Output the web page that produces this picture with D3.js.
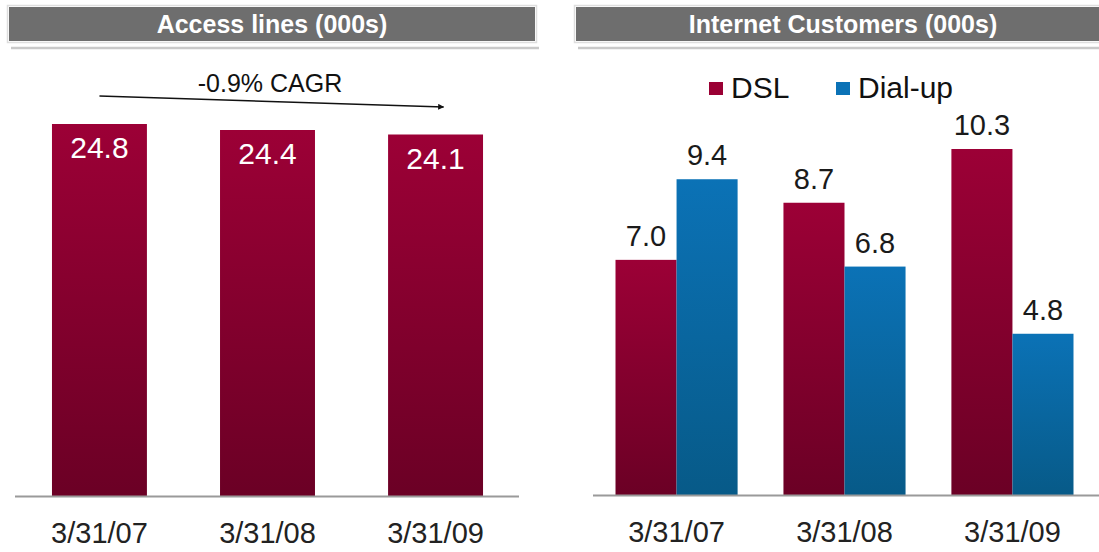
<!DOCTYPE html>
<html>
<head>
<meta charset="utf-8">
<script src="https://cdn.jsdelivr.net/npm/d3@7"></script>
<style>
  html, body { margin: 0; padding: 0; background: #ffffff; }
  svg { display: block; font-family: "Liberation Sans", Arial, sans-serif; }
</style>
</head>
<body>
<svg id="chart" width="1099" height="552"></svg>
<script>
// ---- Data ----
const categories = ["3/31/07", "3/31/08", "3/31/09"];
const accessLines = [24.8, 24.4, 24.1];
const seriesNames = ["DSL", "Dial-up"];
const dslValues = [7.0, 8.7, 10.3];
const dialupValues = [9.4, 6.8, 4.8];
const leftTitle = "Access lines (000s)";
const rightTitle = "Internet Customers (000s)";
const cagrLabel = "-0.9% CAGR";

const svg = d3.select("#chart");
const defs = svg.append("defs");

function gradient(id, top, bottom) {
  const g = defs.append("linearGradient").attr("id", id)
    .attr("x1", 0).attr("y1", 0).attr("x2", 0).attr("y2", 1);
  g.append("stop").attr("offset", "0%").attr("stop-color", top);
  g.append("stop").attr("offset", "100%").attr("stop-color", bottom);
}
gradient("gMaroon", "#9c0036", "#6b0025");
gradient("gBlue", "#0b72b6", "#075a88");
const colors = { "DSL": "url(#gMaroon)", "Dial-up": "url(#gBlue)" };
const legendColors = { "DSL": "#9a0034", "Dial-up": "#0b72b6" };

const marker = defs.append("marker").attr("id", "arrow")
  .attr("viewBox", "0 0 10 10").attr("refX", 9).attr("refY", 5)
  .attr("markerWidth", 7).attr("markerHeight", 6).attr("orient", "auto")
  .attr("markerUnits", "userSpaceOnUse");
marker.append("path").attr("d", "M0,0 L10,5 L0,10 z").attr("fill", "#111");

// ---- Headers ----
function header(x0, x1, text) {
  svg.append("line").attr("x1", x0 + 2).attr("x2", x1 + 4).attr("y1", 48).attr("y2", 48)
    .attr("stroke", "#c9c9c9").attr("stroke-width", 2.5);
  svg.append("rect").attr("x", x0 - 1.5).attr("y", 5.5).attr("width", x1 - x0 + 3).attr("height", 37)
    .attr("fill", "none").attr("stroke", "#dedede").attr("stroke-width", 1.5);
  svg.append("rect").attr("x", x0).attr("y", 7).attr("width", x1 - x0).attr("height", 34)
    .attr("fill", "#6e6e6e");
  svg.append("text").attr("x", (x0 + x1) / 2).attr("y", 33)
    .attr("text-anchor", "middle").attr("fill", "#ffffff")
    .attr("font-size", 25).attr("font-weight", "bold").text(text);
}
header(9, 535, leftTitle);
header(576, 1110, rightTitle);

// ---- Left chart ----
const xL = d3.scaleBand().domain(categories).range([15, 520])
  .paddingInner(0.435).paddingOuter(0.22);
const yL = d3.scaleLinear().domain([0, 24.8]).range([496, 124]);

const left = svg.append("g");
left.selectAll("rect.bar").data(accessLines).join("rect")
  .attr("class", "bar")
  .attr("x", (d, i) => xL(categories[i]))
  .attr("y", d => yL(d))
  .attr("width", xL.bandwidth())
  .attr("height", d => yL(0) - yL(d))
  .attr("fill", "url(#gMaroon)");

left.selectAll("text.val").data(accessLines).join("text")
  .attr("class", "val")
  .attr("x", (d, i) => xL(categories[i]) + xL.bandwidth() / 2)
  .attr("y", d => yL(d) + 34)
  .attr("text-anchor", "middle").attr("fill", "#ffffff")
  .attr("font-size", 30).text(d => d.toFixed(1));

const axL = d3.axisBottom(xL).tickSize(0).tickPadding(0);
const gAxL = left.append("g").attr("transform", `translate(0,${yL(0)})`).call(axL);
gAxL.select(".domain").remove();
gAxL.selectAll("text").attr("font-size", 29).attr("fill", "#222")
  .attr("font-family", "Liberation Sans, Arial, sans-serif")
  .attr("dy", 0).attr("y", 47);
left.append("line").attr("x1", 15).attr("x2", 519).attr("y1", yL(0) + 0.5).attr("y2", yL(0) + 0.5)
  .attr("stroke", "#9a9a9a").attr("stroke-width", 2);

// CAGR arrow
const ax0 = xL(categories[0]) + xL.bandwidth() / 2;
const ax1 = xL(categories[2]) + xL.bandwidth() / 2 + 8;
left.append("line").attr("x1", ax0).attr("y1", 96).attr("x2", ax1).attr("y2", 107)
  .attr("stroke", "#111").attr("stroke-width", 1.4).attr("marker-end", "url(#arrow)");
left.append("text").attr("x", 270).attr("y", 92).attr("text-anchor", "middle")
  .attr("font-size", 25).attr("fill", "#111").text(cagrLabel);

// ---- Right chart ----
const x0R = d3.scaleBand().domain(categories).range([593, 1096])
  .paddingInner(0.273).paddingOuter(0.134);
const x1R = d3.scaleBand().domain(seriesNames).range([0, x0R.bandwidth()]).padding(0);
const yR = d3.scaleLinear().domain([0, 10.3]).range([495, 149]);

const rows = categories.map((c, i) => ({
  cat: c,
  vals: [{ s: "DSL", v: dslValues[i] }, { s: "Dial-up", v: dialupValues[i] }]
}));

const right = svg.append("g");
const grp = right.selectAll("g.grp").data(rows).join("g")
  .attr("class", "grp").attr("transform", d => `translate(${x0R(d.cat)},0)`);
grp.selectAll("rect").data(d => d.vals).join("rect")
  .attr("x", d => x1R(d.s))
  .attr("y", d => yR(d.v))
  .attr("width", x1R.bandwidth())
  .attr("height", d => yR(0) - yR(d.v))
  .attr("fill", d => colors[d.s]);
grp.selectAll("text").data(d => d.vals).join("text")
  .attr("x", d => x1R(d.s) + x1R.bandwidth() / 2)
  .attr("y", d => yR(d.v) - 14)
  .attr("text-anchor", "middle").attr("fill", "#1a1a1a")
  .attr("font-size", 29).text(d => d.v.toFixed(1));

const axR = d3.axisBottom(x0R).tickSize(0).tickPadding(0);
const gAxR = right.append("g").attr("transform", `translate(0,${yR(0)})`).call(axR);
gAxR.select(".domain").remove();
gAxR.selectAll("text").attr("font-size", 29).attr("fill", "#222")
  .attr("font-family", "Liberation Sans, Arial, sans-serif")
  .attr("dy", 0).attr("y", 47);
right.append("line").attr("x1", 593).attr("x2", 1099).attr("y1", yR(0) + 0.5).attr("y2", yR(0) + 0.5)
  .attr("stroke", "#9a9a9a").attr("stroke-width", 2);

// Legend
const legendX = [709, 836];
const leg = right.selectAll("g.leg").data(seriesNames).join("g")
  .attr("class", "leg").attr("transform", (d, i) => `translate(${legendX[i]},82)`);
leg.append("rect").attr("width", 14).attr("height", 13).attr("fill", d => legendColors[d]);
leg.append("text").attr("x", 22).attr("y", 16).attr("font-size", 30).attr("fill", "#111").text(d => d);
</script>
</body>
</html>
